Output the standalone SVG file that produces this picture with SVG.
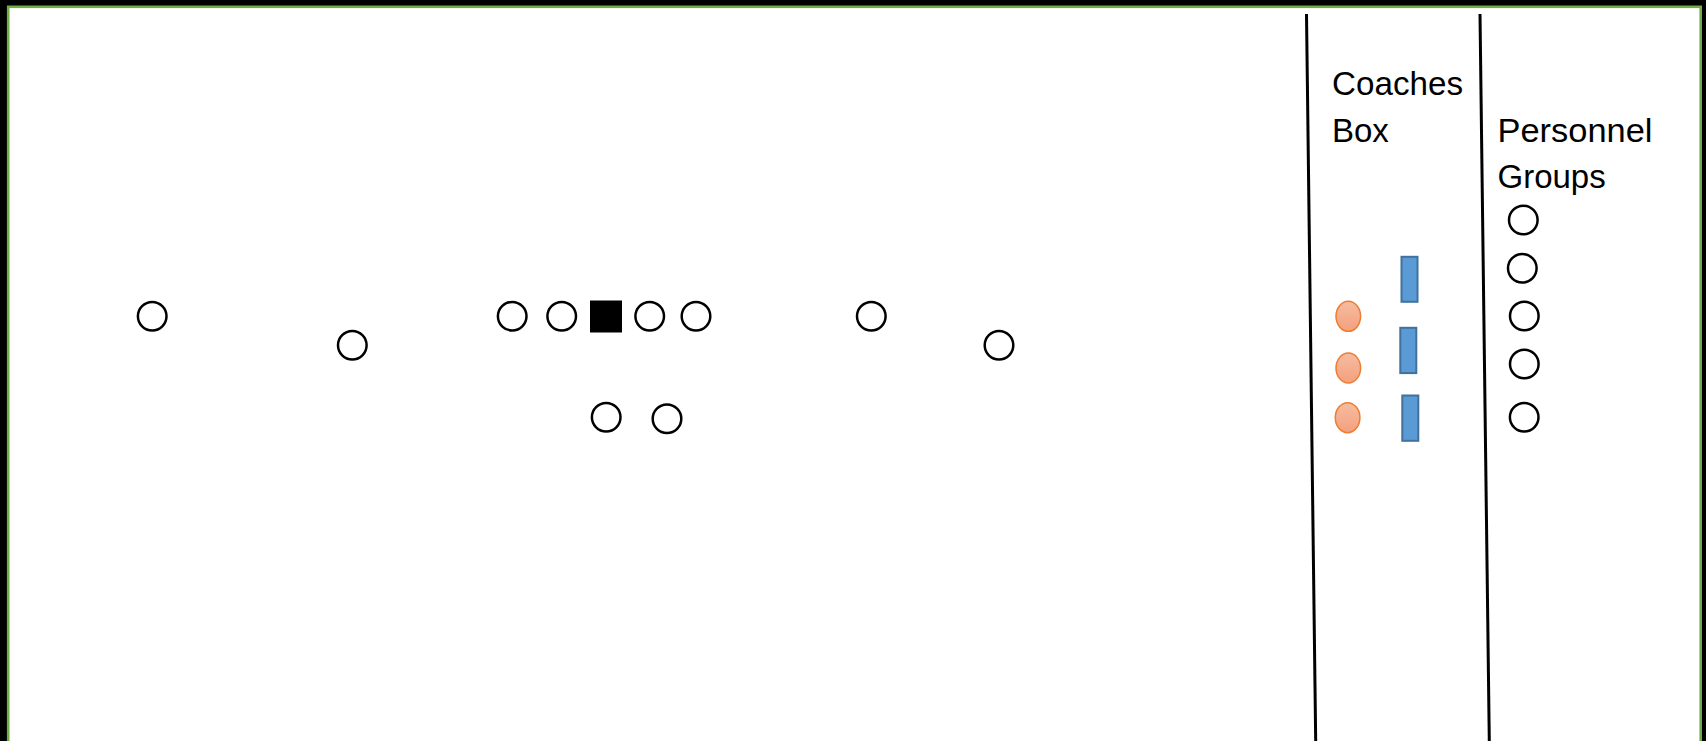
<svg xmlns="http://www.w3.org/2000/svg" width="1706" height="741" viewBox="0 0 1706 741">
<style>
.p{fill:#fff;stroke:#000;stroke-width:2.5}
.lbl{font-family:"Liberation Sans",Arial,sans-serif;font-size:33px;fill:#000}
.coach{fill:url(#og);stroke:#ED7D31;stroke-width:1.5}
.card{fill:#5B9BD5;stroke:#41719C;stroke-width:2}
.div{stroke:#000;stroke-width:3;fill:none}
</style>
<defs>
<linearGradient id="og" x1="0" y1="0" x2="0" y2="1">
<stop offset="0" stop-color="#F6BCA2"/>
<stop offset="1" stop-color="#F4A07C"/>
</linearGradient>
</defs>
<rect x="0" y="0" width="1706" height="741" fill="#000"/>
<rect x="8.2" y="6.8" width="1692.5" height="740" fill="#fff" stroke="#70AD47" stroke-width="2.6"/>
<g id="connectors">
<line class="div" x1="1306.5" y1="14" x2="1315.7" y2="741"/>
<line class="div" x1="1480" y1="14" x2="1489.3" y2="741"/>
</g>
<g id="labels">
<text class="lbl" x="1332" y="95" textLength="131" lengthAdjust="spacingAndGlyphs">Coaches</text>
<text class="lbl" x="1332" y="141.7">Box</text>
<text class="lbl" x="1497.5" y="141.7" textLength="155" lengthAdjust="spacingAndGlyphs">Personnel</text>
<text class="lbl" x="1497.5" y="188.3">Groups</text>
</g>
<g id="offense">
<circle id="wr1" class="p" cx="152.2" cy="316.2" r="14.3"/>
<circle id="wr2" class="p" cx="352.3" cy="345.3" r="14.3"/>
<circle id="lt" class="p" cx="512.2" cy="316.2" r="14.3"/>
<circle id="lg" class="p" cx="561.7" cy="316.2" r="14.3"/>
<rect id="c" x="590" y="300.5" width="32" height="32" fill="#000"/>
<circle id="rg" class="p" cx="649.7" cy="316.2" r="14.3"/>
<circle id="rt" class="p" cx="696" cy="316.2" r="14.3"/>
<circle id="qb" class="p" cx="606.2" cy="417.2" r="14.3"/>
<circle id="rb" class="p" cx="667" cy="418.8" r="14.3"/>
<circle id="te" class="p" cx="871.3" cy="316.3" r="14.3"/>
<circle id="wr3" class="p" cx="999" cy="345.3" r="14.3"/>
</g>
<g id="coaches">
<ellipse class="coach" cx="1348.3" cy="316.3" rx="12.3" ry="15"/>
<ellipse class="coach" cx="1348.3" cy="368" rx="12.3" ry="15"/>
<ellipse class="coach" cx="1347.6" cy="417.7" rx="12.3" ry="15"/>
<rect class="card" x="1401.5" y="256.8" width="16" height="45"/>
<rect class="card" x="1400.3" y="327.8" width="16" height="45.3"/>
<rect class="card" x="1402.3" y="395.5" width="16" height="45.3"/>
</g>
<g id="personnel">
<circle class="p" cx="1523.3" cy="220" r="14.3"/>
<circle class="p" cx="1522.3" cy="268.3" r="14.3"/>
<circle class="p" cx="1524.3" cy="316" r="14.3"/>
<circle class="p" cx="1524.3" cy="364" r="14.3"/>
<circle class="p" cx="1524.2" cy="417.3" r="14.3"/>
</g>
</svg>
